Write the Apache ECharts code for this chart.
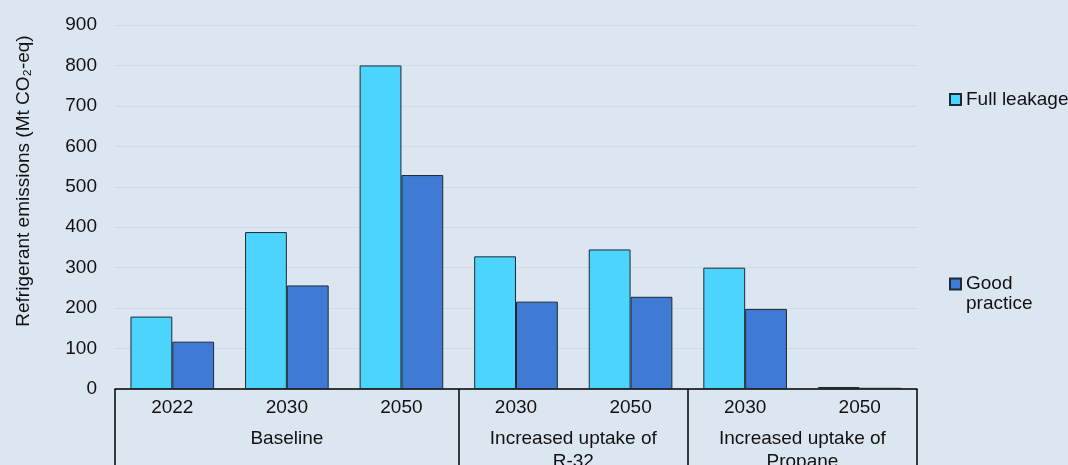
<!DOCTYPE html>
<html>
<head>
<meta charset="utf-8">
<script src="https://cdn.jsdelivr.net/npm/echarts@6/dist/echarts.min.js"></script>
<style>
  html, body { margin: 0; padding: 0; background: #dce6f1; }
  #chart { width: 1068px; height: 465px; }
</style>
</head>
<body>
<div id="chart"></div>
<script>
// data
const years = ['2022', '2030', '2050', '2030', '2050', '2030', '2050'];
const groups = ['Baseline', 'Increased uptake of\nR-32', 'Increased uptake of\nPropane'];
const groupCenters = [1.5, 4, 6];   // positions on the 0..7 group axis
const groupEdges = [0, 3, 5, 7];
const fullLeakage = [179, 388, 800, 328, 345, 300, 5];
const goodPractice = [117, 256, 529, 216, 228, 198, 3];
const yTicks = { min: 0, max: 900, interval: 100 };

const fontFamily = 'Liberation Sans, Arial, sans-serif';
const textColor = '#111';
const fontSize = 19;

const chart = echarts.init(document.getElementById('chart'));

const option = {
  backgroundColor: '#dce6f1',
  animation: false,
  textStyle: { fontFamily: fontFamily },
  grid: {
    left: 115,
    right: 151,
    top: 25,
    bottom: 76,
    outerBoundsMode: 'none'
  },
  legend: [
    {
      data: ['Full leakage'],
      orient: 'vertical',
      left: 944,
      top: 85,
      icon: 'rect',
      itemWidth: 11,
      itemHeight: 11,
      textStyle: { fontSize: fontSize, color: textColor, fontFamily: fontFamily }
    },
    {
      data: ['Good practice'],
      orient: 'vertical',
      left: 944,
      top: 249,
      icon: 'rect',
      itemWidth: 11,
      itemHeight: 11,
      // empty first line so that "Good" sits level with the icon
      formatter: () => ' \nGood\npractice',
      textStyle: {
        fontSize: fontSize,
        lineHeight: 20,
        color: textColor,
        fontFamily: fontFamily
      }
    }
  ],
  xAxis: [
    {
      type: 'category',
      position: 'bottom',
      data: years,
      axisLine: { show: true, lineStyle: { color: '#000', width: 1.5 } },
      axisTick: { show: false },
      axisLabel: {
        interval: 0,
        margin: 9,
        fontSize: fontSize,
        color: textColor
      }
    },
    {
      // second level: scenario groups
      type: 'value',
      position: 'bottom',
      min: 0,
      max: 7,
      splitLine: { show: false },
      axisLine: { show: false },
      axisTick: {
        show: true,
        customValues: groupEdges,
        length: 80,
        lineStyle: { color: '#000', width: 1.5 }
      },
      axisLabel: {
        customValues: groupCenters,
        margin: 38,
        fontSize: fontSize,
        lineHeight: 23,
        color: textColor,
        verticalAlign: 'top',
        formatter: (v) => groups[groupCenters.indexOf(v)]
      }
    }
  ],
  yAxis: {
    type: 'value',
    min: yTicks.min,
    max: yTicks.max,
    interval: yTicks.interval,
    name: 'Refrigerant emissions (Mt CO₂-eq)',
    nameLocation: 'middle',
    nameGap: 82,
    nameTextStyle: { fontSize: fontSize, color: textColor, padding: [0, 0, 0, 52] },
    axisLine: { show: false },
    axisTick: { show: false },
    axisLabel: { margin: 18, fontSize: fontSize, color: textColor },
    splitLine: { lineStyle: { color: '#d3d9e0', width: 1 } }
  },
  series: [
    {
      name: 'Full leakage',
      type: 'bar',
      data: fullLeakage,
      barGap: '0%',
      barCategoryGap: '27%',
      itemStyle: { color: '#4bd4fe', borderColor: '#1e2a33', borderWidth: 1 }
    },
    {
      name: 'Good practice',
      type: 'bar',
      data: goodPractice,
      itemStyle: { color: '#3f7bd4', borderColor: '#1e2a33', borderWidth: 1 }
    }
  ]
};

chart.setOption(option);
</script>
</body>
</html>
